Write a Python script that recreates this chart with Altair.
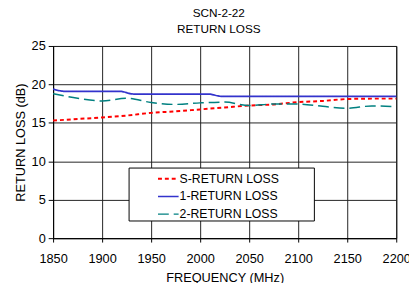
import altair as alt
import pandas as pd

# ---- data ----
freq = [1850, 1875, 1900, 1925, 1950, 1975, 2000, 2025, 2050, 2075, 2100, 2125, 2150, 2175, 2200]
s_rl = [15.3, 15.5, 15.7, 15.95, 16.3, 16.5, 16.75, 17.0, 17.25, 17.4, 17.7, 17.85, 18.1, 18.15, 18.15]
rl2 = [18.8, 18.2, 17.85, 18.2, 17.65, 17.4, 17.6, 17.7, 17.25, 17.45, 17.45, 17.15, 16.9, 17.2, 17.1]
freq1 = [1850, 1862, 1918, 1932, 2008, 2022, 2200]
rl1 = [19.4, 19.1, 19.1, 18.75, 18.75, 18.45, 18.45]

series = ["S-RETURN LOSS", "1-RETURN LOSS", "2-RETURN LOSS"]
colors = ["#FF0000", "#3333CC", "#008080"]
dashes = [[4, 3], [1, 0], [11, 5]]
widths = [2, 1.5, 2]

x_ticks = [1850, 1900, 1950, 2000, 2050, 2100, 2150, 2200]
y_ticks = [0, 5, 10, 15, 20, 25]

rows = []
for f, v in zip(freq, s_rl):
    rows.append({"freq": f, "rl": v, "series": series[0]})
for f, v in zip(freq1, rl1):
    rows.append({"freq": f, "rl": v, "series": series[1]})
for f, v in zip(freq, rl2):
    rows.append({"freq": f, "rl": v, "series": series[2]})
df = pd.DataFrame(rows)

FONT = "Liberation Sans"
# trailing non-breaking spaces closed by a zero-width space so they are not trimmed
PAD = "\u00a0" * 10 + "\u200b"

chart = alt.Chart(df).mark_line(interpolate="monotone").encode(
    x=alt.X("freq:Q",
            scale=alt.Scale(domain=[1850, 2200], nice=False, zero=False),
            axis=alt.Axis(values=x_ticks, title="FREQUENCY (MHz)", format="d",
                          labelFlush=False, labelOverlap=False,
                          tickSize=4, labelPadding=11, titlePadding=6)),
    y=alt.Y("rl:Q",
            scale=alt.Scale(domain=[0, 25], nice=False),
            axis=alt.Axis(values=y_ticks, title="RETURN LOSS (dB)",
                          tickSize=5, labelPadding=3, titlePadding=4)),
    color=alt.Color("series:N", scale=alt.Scale(domain=series, range=colors),
                    legend=alt.Legend(title=None, orient="none", legendX=77, legendY=124,
                                      fillColor="white", strokeColor="black",
                                      padding=0, symbolType="stroke", symbolSize=441,
                                      symbolStrokeWidth=2, symbolOffset=29,
                                      labelFontSize=12.5, labelFont=FONT, labelColor="black",
                                      labelOffset=0, rowPadding=-1.5, labelLimit=300,
                                      labelExpr="datum.label + '" + PAD + "'")),
    strokeDash=alt.StrokeDash("series:N", scale=alt.Scale(domain=series, range=dashes),
                              legend=alt.Legend(title=None)),
    strokeWidth=alt.StrokeWidth("series:N", scale=alt.Scale(domain=series, range=widths),
                                legend=None),
).properties(
    width=350,
    height=196,
    title=alt.TitleParams(["SCN-2-22", "RETURN LOSS"], fontSize=12, font=FONT,
                          fontWeight="normal", lineHeight=17, offset=4, dx=-6,
                          anchor="middle", color="black"),
    autosize=alt.AutoSizeParams(type="none"),
    padding={"left": 46, "top": 36, "right": 13, "bottom": 43},
).configure_axis(
    grid=True, gridColor="#222222", gridWidth=1, gridOpacity=1,
    domainColor="black", tickColor="black",
    labelFont=FONT, labelFontSize=13, labelColor="black",
    titleFont=FONT, titleFontSize=13, titleFontWeight="normal", titleColor="black",
).configure_view(
    stroke="black", strokeWidth=1
)

chart.save("out.html", embed_options={"renderer": "svg", "actions": False})
